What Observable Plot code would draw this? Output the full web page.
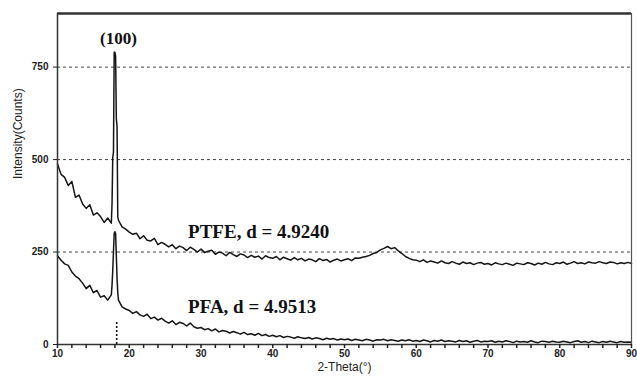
<!DOCTYPE html>
<html><head><meta charset="utf-8">
<script src="https://cdn.jsdelivr.net/npm/d3@7"></script>
<script src="https://cdn.jsdelivr.net/npm/@observablehq/plot@0.6"></script>
<style>body{margin:0;background:#fff}</style>
</head><body><div id="chart"></div>
<script>
// 2-Theta grid (deg) of the base readings: 10 to 90 every 0.5
const twoTheta = d3.range(10, 90.25, 0.5);

// PTFE intensity (counts) read at each twoTheta
const ptfe = [
  488, 460, 452, 430, 441, 398, 404, 380, 368, 378,
  350, 356, 346, 330, 342, 328, 790, 336, 318, 312,
  304, 298, 301, 286, 294, 282, 280, 287, 270, 276,
  271, 264, 270, 259, 266, 262, 254, 263, 257, 250,
  258, 249, 252, 255, 244, 250, 247, 240, 249, 243,
  238, 245, 242, 235, 241, 236, 239, 231, 240, 235,
  233, 238, 229, 236, 232, 228, 235, 229, 233, 226,
  231, 229, 224, 232, 227, 230, 223, 228, 231, 226,
  229, 232, 227, 234, 233, 236, 238, 241, 246, 249,
  256, 260, 265, 259, 262, 253, 246, 238, 233, 229,
  228, 224, 229, 222, 226, 223, 220, 226, 221, 219,
  224, 220, 217, 223, 219, 221, 216, 220, 222, 217,
  219, 215, 221, 218, 216, 220, 217, 214, 220, 218,
  216, 221, 219, 215, 220, 217, 222, 218, 216, 221,
  219, 223, 217, 220, 224, 219, 221, 218, 223, 221,
  220, 224, 221, 219, 223, 222, 218, 221, 219, 222,
  219
];
// PFA intensity (counts) read at each twoTheta
const pfa = [
  240, 228, 218, 214, 196, 185, 178, 166, 151, 160,
  140, 146, 128, 132, 120, 134, 305, 120, 102, 96,
  92, 84, 89, 80, 76, 82, 70, 74, 66, 71,
  63, 58, 64, 54, 60, 57, 50, 58, 48, 44,
  46, 40, 43, 37, 42, 34, 38, 36, 31, 35,
  32, 28, 33, 27, 29, 25, 30, 24, 27, 22,
  25, 21, 24, 19, 22, 20, 17, 21, 18, 16,
  19, 15, 18, 16, 13, 17, 14, 16, 12, 15,
  13, 15, 11, 14, 12, 10, 14, 12, 9, 13,
  12, 14, 10, 13, 11, 9, 12, 10, 13, 9,
  11, 8, 12, 10, 7, 11, 9, 12, 8, 10,
  9, 7, 11, 8, 10, 6, 9, 11, 7, 9,
  8, 10, 6, 9, 7, 10, 8, 5, 9, 7,
  8, 6, 10, 7, 5, 9, 8, 6, 9, 7,
  6, 9, 7, 5, 8, 10, 6, 8, 5, 9,
  7, 5, 8, 6, 9, 7, 5, 8, 6, 7,
  6
];

// extra readings across the (100) reflection
const peakX    = [17.6, 17.7, 17.8, 17.9, 18.1, 18.2, 18.3, 18.4];
const ptfePeak = [380, 505, 520, 790, 780, 610, 590, 345];
const pfaPeak  = [160, 200, 250, 300, 300, 240, 180, 140];

// axis ticks
const xTicks = d3.range(10, 91, 2);
const yTicks = [0, 250, 500, 750];
const gridValues = [250, 500, 750];

// (100) marker line
const markerX = [18.25];
const markerTop = [65];

// annotations
const peakLabel = ["(100)"];
const seriesLabels = ["PTFE, d = 4.9240", "PFA, d = 4.9513"];
const peakLabelPos = [18.5, 827];
const seriesLabelX = [28.2, 28.2];
const seriesLabelY = [305, 101];

function series(base, px, py) {
  const rows = twoTheta.map((x, i) => ({x, y: base[i]}));
  px.forEach((x, i) => rows.push({x, y: py[i]}));
  return rows.sort((a, b) => a.x - b.x);
}
const ptfeRows = series(ptfe, peakX, ptfePeak);
const pfaRows = series(pfa, peakX, pfaPeak);
const serif = "Liberation Serif, Times New Roman, serif";

const chart = Plot.plot({
  width: 637,
  height: 379,
  marginLeft: 57,
  marginRight: 6,
  marginTop: 13,
  marginBottom: 35,
  style: {fontFamily: "Liberation Sans, Arial, sans-serif", background: "#fff", color: "#222"},
  x: {domain: [10, 90]},
  y: {domain: [0, 895]},
  marks: [
    Plot.ruleY(gridValues, {stroke: "#444", strokeWidth: 1, strokeDasharray: "3,3"}),
    Plot.ruleX(markerX, {y1: 0, y2: markerTop[0], stroke: "#111", strokeWidth: 1.6, strokeDasharray: "2,2"}),
    Plot.line(ptfeRows, {x: "x", y: "y", stroke: "#151515", strokeWidth: 1.5}),
    Plot.line(pfaRows, {x: "x", y: "y", stroke: "#151515", strokeWidth: 1.5}),
    Plot.ruleY([895], {stroke: "#333", strokeWidth: 2.5}),
    Plot.ruleX([90], {stroke: "#555", strokeWidth: 1.2}),
    Plot.ruleX([10], {stroke: "#333", strokeWidth: 1.5}),
    Plot.ruleY([0], {stroke: "#333", strokeWidth: 1.5}),
    Plot.axisX({ticks: xTicks, tickSize: 4, tickPadding: 1, tickFormat: d => d % 10 === 0 ? d : "", label: null, fontSize: 10, fontWeight: "bold", stroke: null}),
    Plot.axisX({ticks: xTicks, tickSize: 4, tickFormat: () => "", label: null, strokeWidth: 1.5}),
    Plot.axisY({ticks: yTicks, tickSize: 4, label: null, fontSize: 10, fontWeight: "bold"}),
    Plot.text(["Intensity(Counts)"], {frameAnchor: "left", dx: -39, rotate: -90, fontSize: 12, fill: "#222"}),
    Plot.text(["2-Theta(°)"], {frameAnchor: "bottom", dy: 26, fontSize: 12, fill: "#222"}),
    Plot.text(peakLabel, {x: () => peakLabelPos[0], y: () => peakLabelPos[1], fontSize: 17, textAnchor: "middle", fontFamily: serif, fontWeight: "bold", fill: "#111"}),
    Plot.text(seriesLabels, {x: (d, i) => seriesLabelX[i], y: (d, i) => seriesLabelY[i], fontSize: 19, textAnchor: "start", fontFamily: serif, fontWeight: "bold", fill: "#111"})
  ]
});
document.getElementById("chart").appendChild(chart);
</script>
</body></html>
